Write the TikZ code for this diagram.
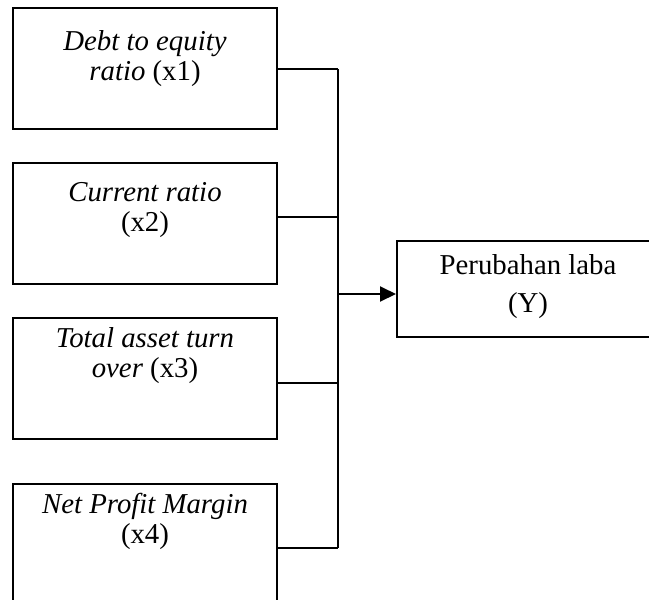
\documentclass[tikz,border=0pt]{standalone}
\usepackage{fontspec}
\setmainfont{Liberation Serif}
\usetikzlibrary{arrows.meta}

\begin{document}
\begin{tikzpicture}[
            x=0.5pt, y=-0.5pt,
            s/.style={draw,line width=1pt,rectangle,anchor=north west,minimum width=132pt,minimum height=60.5pt,inner sep=0pt},
            t/.style={anchor=north,align=center,inner sep=0pt,font=\fontsize{14.4}{15}\selectfont},
            l/.style={line width=1pt},
        ]

        \clip (0,0) rectangle (649,600);

        \node[s] (x1) at (12,7) {};
        \node[s] (x2) at (12,162) {};
        \node[s] (x3) at (12,317) {};
        \node[s,minimum height=75pt] (x4) at (12,483) {};
        \node[s,minimum height=48pt] (y) at (396,240) {};

        \node[t] (x1t) at (145,30) {\textit{Debt to equity}\\\textit{ratio} (x1)};
        \node[t] (x2t) at (145,182) {\textit{Current ratio}\\(x2)};
        \node[t] (x3t) at (145,327) {\textit{Total asset turn}\\\textit{over} (x3)};
        \node[t] (x4t) at (145,493) {\textit{Net Profit Margin}\\(x4)};
        \node[t,font=\fontsize{14.4}{19}\selectfont] (yt) at (528,254) {Perubahan laba\\(Y)};

        \coordinate (j1) at (338,69);
        \coordinate (j2) at (338,217);
        \coordinate (j3) at (338,383);
        \coordinate (j4) at (338,548);
        \coordinate (j0) at (338,294);

        \draw[l]
            (x1.east |- j1) -- (j1)
            (x2.east |- j2) -- (j2)
            (x3.east |- j3) -- (j3)
            (x4.east |- j4) -- (j4)
            (j1) -- (j4)
        ;
        \draw[l,-{Triangle[length=8pt,width=7.5pt]}] (j0) -- (y.west |- j0);

\end{tikzpicture}
\end{document}
